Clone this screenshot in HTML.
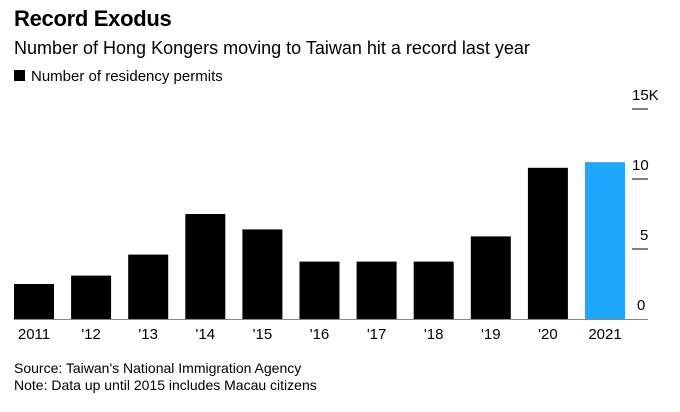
<!DOCTYPE html>
<html><head><meta charset="utf-8"><style>
body{margin:0;width:680px;height:412px;background:#fff;font-family:"Liberation Sans",Arial,sans-serif;overflow:hidden;position:relative}
.t{position:absolute;left:14px;white-space:nowrap;color:#000}
</style></head><body>
<div class="t" style="top:6px;font-size:22px;font-weight:bold;letter-spacing:-0.3px">Record Exodus</div>
<div class="t" style="top:38px;font-size:18px">Number of Hong Kongers moving to Taiwan hit a record last year</div>
<div class="t" style="top:68px;font-size:15px"><span style="display:inline-block;width:11px;height:11px;background:#000;margin-right:6px"></span>Number of residency permits</div>
<svg id="c" width="680" height="412" style="position:absolute;left:0;top:0"></svg>
<div class="t" style="top:360px;font-size:14px">Source: Taiwan's National Immigration Agency</div>
<div class="t" style="top:377px;font-size:14px">Note: Data up until 2015 includes Macau citizens</div>
<script>
const categories=["2011","'12","'13","'14","'15","'16","'17","'18","'19","'20","2021"];
const values=[2.5,3.1,4.6,7.5,6.4,4.1,4.1,4.1,5.9,10.8,11.2];
const tickValues=[0,5,10,15];
const tickLabels=["0","5","10","15K"];
const svg=document.getElementById('c');const NS='http://www.w3.org/2000/svg';
const y=v=>319-v*14;const x=i=>34+i*57.1;
function mk(t,a){const e=document.createElementNS(NS,t);for(const k in a)e.setAttribute(k,a[k]);svg.appendChild(e);return e;}
tickValues.forEach((v,i)=>{
 if(v>0){const l=mk('line',{x1:632,x2:648,y1:y(v),y2:y(v),stroke:'#000','stroke-width':1});
 
 }
 const t=mk('text',{x:v==0?637:(v==5?640:632),y:y(v)-9,'font-size':15,fill:'#000'});t.textContent=tickLabels[i];
 
 
});
values.forEach((v,i)=>{
 const r=mk('rect',{x:x(i)-20,y:y(v),width:40,height:319-y(v),fill:i==values.length-1?'#1ea7fd':'#000'});
 
 
 const t=mk('text',{x:x(i),y:339,'font-size':15,'text-anchor':'middle',fill:'#000'});t.textContent=categories[i];
 
 
});
const b=mk('line',{x1:14,x2:648,y1:319.5,y2:319.5,stroke:'#888','stroke-width':1});


</script>
</body></html>
